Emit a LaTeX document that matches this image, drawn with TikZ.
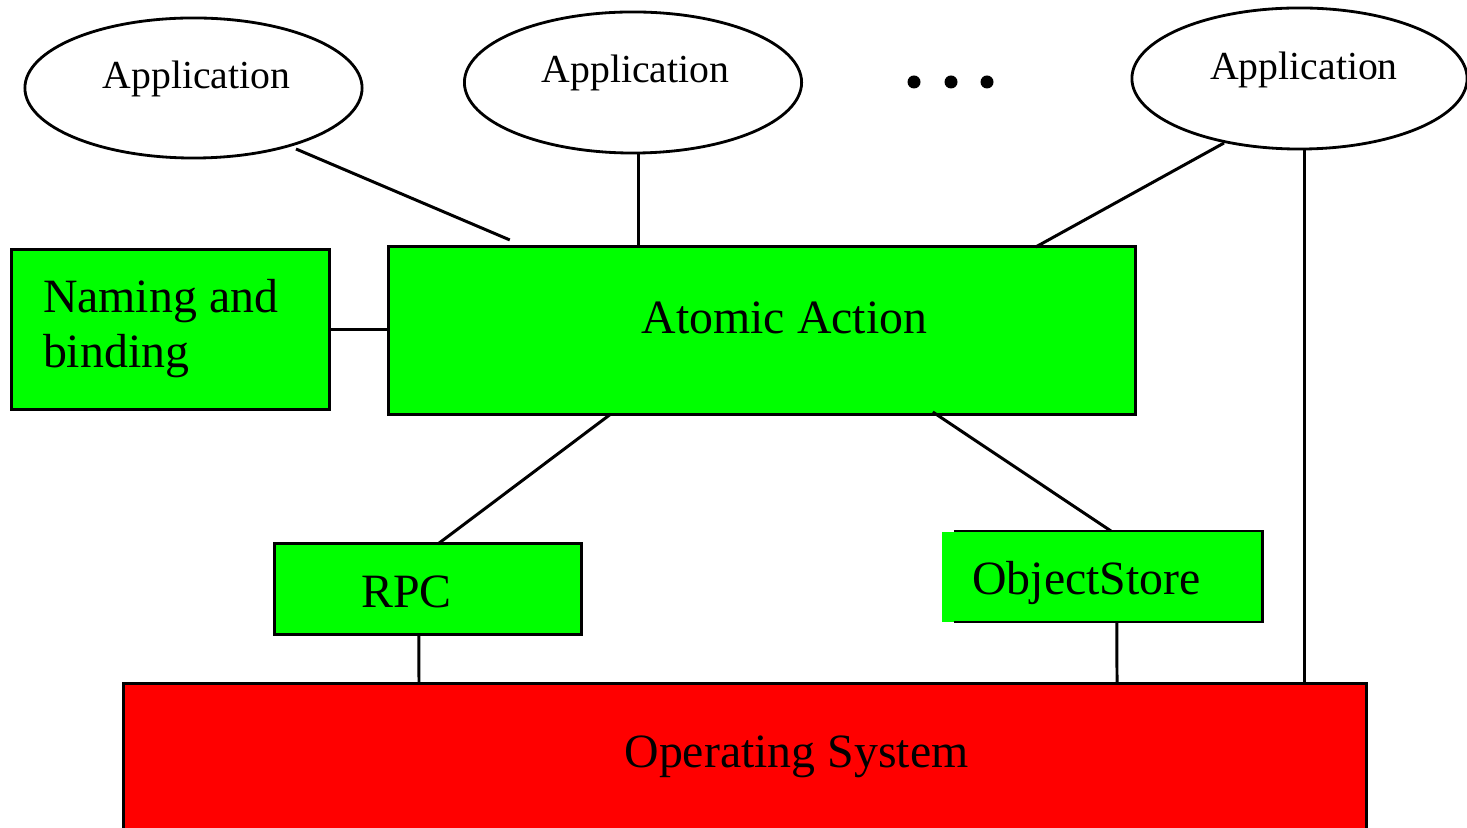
\documentclass[tikz,border=0pt]{standalone}
\usepackage{fontspec}
\setmainfont{Liberation Serif}
\usetikzlibrary{shapes.geometric,calc}
\definecolor{boxgreen}{HTML}{00FF00}
\definecolor{osred}{HTML}{FF0000}
\begin{document}
\begin{tikzpicture}[x=0.01cm,y=-0.01cm,line width=0.85pt,
  every node/.style={outer sep=0pt},
  appell/.style={draw,ellipse,inner sep=0pt,line width=0.8pt},
  gbox/.style={draw,fill=boxgreen,inner sep=0pt},
  big/.style={font=\rmfamily\fontsize{13.6}{15.6}\selectfont,inner sep=0pt,anchor=base},
  small/.style={font=\rmfamily\fontsize{11.3}{13.5}\selectfont,inner sep=0pt,anchor=base},
  conn/.style={draw,line width=0.85pt},
  dotmark/.style={circle,fill=black,inner sep=0pt,minimum size=0.13cm}]
\path[use as bounding box] (0,0) rectangle (1467,828);
\clip (0,0) rectangle (1467,828);

% Application ellipses
\node[appell,minimum width=3.37cm,minimum height=1.40cm] (app1) at (193.5,88) {};
\node[small] (app1t) at (196.5,89) {Application};
\node[appell,minimum width=3.37cm,minimum height=1.41cm] (app2) at (633,82.5) {};
\node[small] (app2t) at (635.5,83) {Application};
\node[appell,minimum width=3.35cm,minimum height=1.41cm] (app3) at (1299.5,78.5) {};
\node[small] (app3t) at (1304,80) {Application};

% dots
\node[dotmark] (d1) at (914,82) {};
\node[dotmark] (d2) at (951,82) {};
\node[dotmark] (d3) at (987,82) {};

% Naming and binding
\node[gbox,minimum width=3.17cm,minimum height=1.59cm] (naming) at (170.5,329.5) {};
\node[big,anchor=base west] (namingt1) at (43,313) {Naming and};
\node[big,anchor=base west] (namingt2) at (43,368) {binding};

% Atomic Action
\node[gbox,minimum width=7.46cm,minimum height=1.67cm] (atomic) at (762,330.5) {};
\node[big] (atomict) at (784.5,334) {Atomic Action};

% RPC
\node[gbox,minimum width=3.06cm,minimum height=0.90cm] (rpc) at (428,589) {};
\node[big] (rpct) at (406.7,607) {RPC};

% ObjectStore
\fill[boxgreen] (942,532) rectangle (1262,622);
\coordinate (osnw) at (954,531);
\coordinate (osne) at (1262,531);
\coordinate (osse) at (1262,622);
\coordinate (ossw) at (954,622);
\draw (osnw) -- (osne) -- (osse) -- (ossw);
\node[inner sep=0pt,minimum width=3.20cm,minimum height=0.91cm] (objstore) at (1102,576.5) {};
\node[big] (objstoret) at (1086.5,594) {ObjectStore};

% Operating System
\node[draw,fill=osred,inner sep=0pt,minimum width=12.42cm,minimum height=1.80cm] (os) at (745,774) {};
\node[big] (ost) at (796.5,767) {Operating System};

% connectors
\draw[conn] ($(app1.center)+(102.5,61)$) -- ($(atomic.north west)+(121,-7)$);
\draw[conn] (app2.south -| 638,0) -- (atomic.north -| 638,0);
\draw[conn] ($(app3.center)+(-75.5,64.5)$) -- ($(atomic.north west)+(647,0)$);
\draw[conn] (app3.south -| 1304,0) -- (os.north -| 1304,0);
\draw[conn] (naming.east) -- (naming.east -| atomic.west);
\draw[conn] ($(atomic.south west)+(222,0)$) -- ($(rpc.north west)+(163,0)$);
\draw[conn] ($(atomic.south west)+(544,-2)$) -- ($(objstore.north west)+(169,0)$);
\draw[conn] ($(rpc.south west)+(144,2)$) -- (os.north -| 419,0);
\draw[conn] ($(objstore.south west)+(175,0)$) -- (os.north -| 1117,0);
\end{tikzpicture}
\end{document}
